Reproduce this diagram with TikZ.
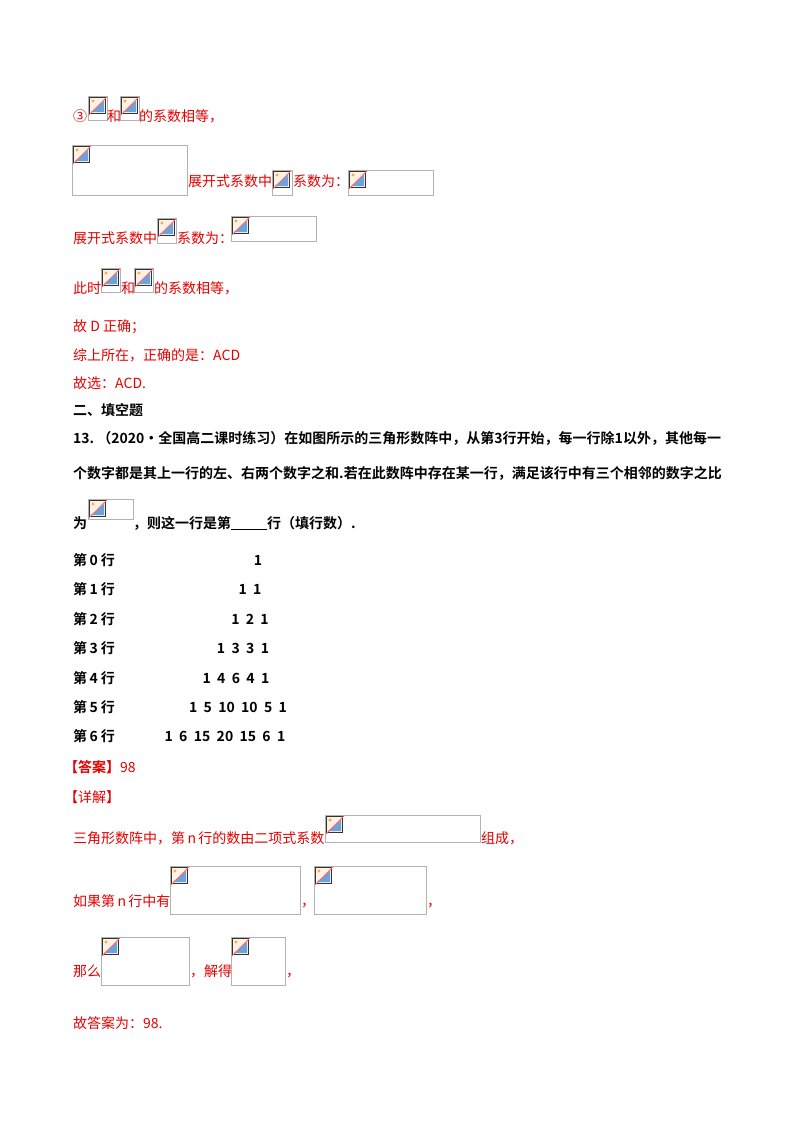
\documentclass[tikz,border=0pt]{standalone}
\usepackage{fontspec}
\setmainfont{Noto Sans CJK SC}[BoldFont={Noto Sans CJK SC Bold}]
\begin{document}
\begin{tikzpicture}[x=1pt,y=-1pt,
  t/.style={anchor=base west,inner sep=0pt,font=\fontsize{14}{16}\selectfont},
  r/.style={t,text=red!90!black},
  b/.style={t,font=\fontsize{14}{16}\selectfont\bfseries},
  n/.style={anchor=base,inner sep=0pt,font=\fontsize{14}{16}\selectfont\bfseries}]
\useasboundingbox (0,0) rectangle (800,1132);
\fill[white] (0,0) rectangle (800,1132);
\newcommand\ph[4]{%
  \draw[gray!60,line width=0.8pt] (#1,#2) rectangle (#3,#4);
  \fill[orange!10] (#1+1,#2+1) rectangle (#1+17,#2+17);
  \fill[cyan!60!blue!60] (#1+3,#2+16) -- (#1+16,#2+5) -- (#1+16,#2+16) -- cycle;
  \fill[orange!70] (#1+5,#2+5) circle (1.6);
  \draw[gray!40!black,line width=0.9pt] (#1+1,#2+1) rectangle (#1+17,#2+17);
  \draw[red!60,line width=0.8pt] (#1+1,#2+19) -- (#1+19,#2+1);}
% line 1
\node[r] (a1) at (73,121) {③};
\ph{88}{96}{107}{120}
\node[r] (a2) at (107,121) {和};
\ph{120}{96}{139}{120}
\node[r] (a3) at (139,121) {的系数相等，};
% line 2
\ph{72}{145}{187}{195}
\node[r] (b1) at (188,186) {展开式系数中};
\ph{272}{170}{292}{195}
\node[r] (b2) at (293,186) {系数为：};
\ph{348}{170}{433}{195}
% line 3
\node[r] (c1) at (73,243) {展开式系数中};
\ph{157}{218}{176}{243}
\node[r] (c2) at (177,243) {系数为：};
\ph{231}{216}{316}{241}
% line 4
\node[r] (d1) at (73,293) {此时};
\ph{101}{268}{120}{292}
\node[r] (d2) at (121,293) {和};
\ph{134}{268}{153}{292}
\node[r] (d3) at (154,293) {的系数相等，};
\node[r] (e1) at (73,331) {故 D 正确；};
\node[r] (e2) at (73,360) {综上所在，正确的是：ACD};
\node[r] (e3) at (73,388) {故选：ACD.};
% question
\node[b] (q0) at (73,415) {二、填空题};
\node[b] (q1) at (73,443) {13.\ （2020·全国高二课时练习）在如图所示的三角形数阵中，从第3行开始，每一行除1以外，其他每一};
\node[b] (q2) at (73,478) {个数字都是其上一行的左、右两个数字之和.若在此数阵中存在某一行，满足该行中有三个相邻的数字之比};
\node[b] (q3) at (73,528) {为};
\ph{88}{499}{133}{519}
\node[b] (q4) at (133,528) {，则这一行是第\underline{\hspace{36pt}}行（填行数）.};
% triangle
\foreach \i/\yy in {0/565,1/594,2/624,3/653,4/683,5/712,6/741}
  \node[b] (L\i) at (73,\yy) {第\,\i\ 行};
\node[n] (r0) at (258,565) {1};
\node[n] (r1) at (250,594) {1\ \ 1};
\node[n] (r2) at (250,624) {1\ \ 2\ \ 1};
\node[n] (r3) at (243,653) {1\ \ 3\ \ 3\ \ 1};
\node[n] (r4) at (236,683) {1\ \ 4\ \ 6\ \ 4\ \ 1};
\node[n] (r5) at (238,712) {1\ \ 5\ \ 10\ \ 10\ \ 5\ \ 1};
\node[n] (r6) at (225,741) {1\ \ 6\ \ 15\ \ 20\ \ 15\ \ 6\ \ 1};
% answer
\node[r] (s1) at (64,772) {\textbf{【答案】}98};
\node[r] (s2) at (64,802) {【详解】};
\node[r] (s3) at (73,843) {三角形数阵中，第\,\textit{n}\,行的数由二项式系数};
\ph{325}{815}{480}{842}
\node[r] (s4) at (481,843) {组成，};
\node[r] (s5) at (73,906) {如果第\,\textit{n}\,行中有};
\ph{170}{866}{300}{914}
\node[r] (s6) at (301,906) {，};
\ph{314}{866}{426}{914}
\node[r] (s7) at (427,906) {，};
\node[r] (s8) at (73,976) {那么};
\ph{101}{937}{189}{985}
\node[r] (s9) at (190,976) {，解得};
\ph{231}{937}{285}{985}
\node[r] (s10) at (286,976) {，};
\node[r] (s11) at (73,1028) {故答案为：98.};
\end{tikzpicture}
\end{document}
